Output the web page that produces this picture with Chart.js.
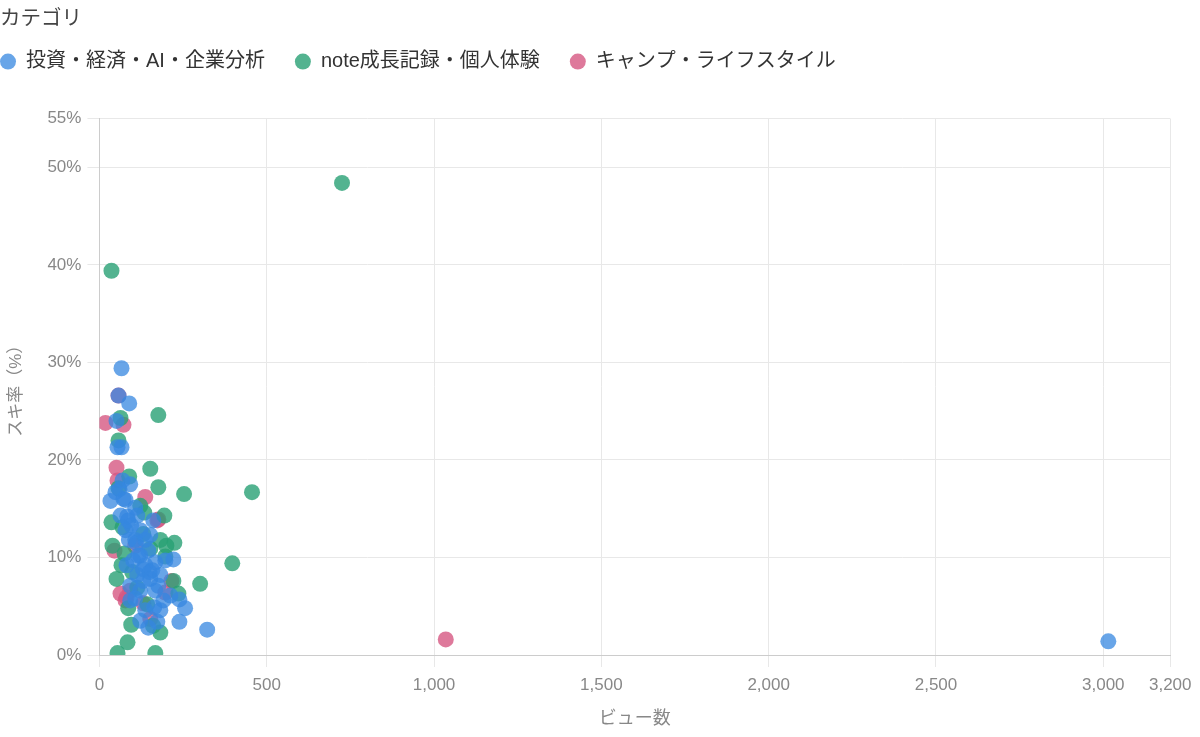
<!DOCTYPE html>
<html>
<head>
<meta charset="utf-8">
<script src="https://cdn.jsdelivr.net/npm/chart.js@4.4.1/dist/chart.umd.min.js"></script>
<style>
  html, body { margin: 0; padding: 0; background: #fff; }
  #wrap { width: 1200px; height: 737px; }
</style>
</head>
<body>
<div id="wrap"><canvas id="c"></canvas></div>
<script>
const seriesNames = ['投資・経済・AI・企業分析', 'note成長記録・個人体験', 'キャンプ・ライフスタイル'];

// [views, like rate %]
const investViews = [3015, 66, 89, 57, 51, 54, 66, 33, 48, 69, 92, 107, 83, 78, 95, 122, 146, 122, 101, 81, 137, 167, 197, 221, 113, 152, 176, 92, 122, 167, 92, 164, 137, 173, 146, 239, 256, 239, 322, 212, 191, 122, 113, 161, 72, 60, 110, 130, 88, 150, 78, 63, 86, 107, 137, 152, 116, 158, 182, 131, 107, 182];
const investRates = [1.4, 29.4, 25.8, 26.6, 24.0, 21.3, 21.3, 15.8, 16.7, 17.9, 17.5, 15.1, 14.2, 12.8, 13.3, 12.8, 10.7, 10.2, 9.7, 9.2, 9.2, 9.5, 9.7, 9.8, 8.2, 7.8, 7.1, 7.1, 6.6, 6.6, 5.6, 4.9, 4.6, 3.4, 2.8, 5.7, 4.8, 3.4, 2.6, 6.1, 5.6, 3.5, 14.3, 13.8, 16.0, 17.0, 11.5, 8.8, 11.8, 8.5, 15.9, 14.3, 13.8, 11.8, 11.8, 12.3, 10.2, 8.7, 8.2, 7.6, 5.8, 4.6];

const noteViews = [725, 36, 176, 456, 253, 176, 397, 301, 194, 224, 197, 152, 36, 54, 167, 84, 95, 86, 63, 57, 89, 134, 182, 51, 66, 75, 131, 221, 236, 143, 57, 69, 152, 98, 200, 122, 113, 160, 39, 182];
const noteRates = [48.4, 39.4, 24.6, 16.7, 16.5, 17.2, 9.4, 7.3, 14.3, 11.5, 10.1, 19.1, 13.6, 0.2, 0.2, 1.3, 3.1, 4.8, 24.3, 22.0, 18.3, 14.6, 2.3, 7.8, 9.2, 10.4, 12.4, 7.6, 6.3, 5.2, 17.1, 13.1, 10.9, 8.5, 11.2, 15.3, 6.9, 3.0, 11.2, 11.8];

const campViews = [18, 72, 51, 54, 45, 63, 81, 137, 173, 215, 1035, 131, 57, 92, 152, 107, 78, 176, 197];
const campRates = [23.8, 23.6, 19.2, 17.9, 10.7, 6.3, 5.9, 16.2, 13.8, 7.6, 1.6, 5.3, 26.6, 6.6, 3.7, 11.2, 5.6, 13.9, 6.4];

const xTickValues = [0, 500, 1000, 1500, 2000, 2500, 3000, 3200];
const yTickValues = [0, 10, 20, 30, 40, 50, 55];

const xTitle = 'ビュー数';
const yTitle = 'スキ率（%）';
const legendTitle = 'カテゴリ';

function pts(xs, ys) { return xs.map((x, i) => ({ x: x, y: ys[i] })); }

const FONT = "'Liberation Sans', 'Noto Sans CJK JP', sans-serif";

// Legend layout tweaks: flush-left items and extra gap under the legend row
const legendLayout = {
  id: 'legendLayout',
  beforeLayout(chart) {
    const lg = chart.legend;
    if (lg && !lg._gapPatched) {
      const origFit = lg.fit.bind(lg);
      lg.fit = function () { origFit(); this.height += 27; };
      lg._gapPatched = true;
    }
  },
  afterLayout(chart) {
    const lg = chart.legend;
    if (lg) { lg.left -= lg.options.labels.padding; lg.top -= 10; }
  }
};

new Chart(document.getElementById('c'), {
  type: 'scatter',
  data: {
    datasets: [
      { label: seriesNames[0], data: pts(investViews, investRates), backgroundColor: 'rgba(54,135,224,0.75)', borderColor: 'rgba(54,135,224,0.75)', borderWidth: 0, pointRadius: 8 },
      { label: seriesNames[1], data: pts(noteViews, noteRates), backgroundColor: 'rgba(40,160,116,0.8)', borderColor: 'rgba(40,160,116,0.8)', borderWidth: 0, pointRadius: 8 },
      { label: seriesNames[2], data: pts(campViews, campRates), backgroundColor: 'rgba(214,88,130,0.8)', borderColor: 'rgba(214,88,130,0.8)', borderWidth: 0, pointRadius: 8 }
    ]
  },
  plugins: [legendLayout],
  options: {
    responsive: true,
    maintainAspectRatio: false,
    animation: false,
    layout: { padding: { left: 0, right: 4, top: 0, bottom: 0 } },
    plugins: {
      tooltip: { enabled: false },
      title: {
        display: true,
        text: legendTitle,
        align: 'start',
        color: '#444',
        font: { family: FONT, size: 20.5, weight: 'normal' },
        padding: { top: 7, bottom: 0 }
      },
      legend: {
        position: 'top',
        align: 'start',
        labels: {
          usePointStyle: true,
          pointStyle: 'circle',
          boxWidth: 16,
          boxHeight: 11.3,
          padding: 30,
          color: '#333',
          font: { family: FONT, size: 20 }
        }
      }
    },
    scales: {
      x: {
        type: 'linear',
        min: 0,
        max: 3200,
        afterBuildTicks: s => { s.ticks = xTickValues.map(v => ({ value: v })); },
        ticks: { color: '#888', font: { family: FONT, size: 17 }, padding: 8.5 },
        grid: { color: '#e8e8e8', tickLength: 12 },
        border: { color: '#cccccc' },
        title: { display: true, text: xTitle, color: '#888', font: { family: FONT, size: 18 }, padding: { top: 4, bottom: 7 } }
      },
      y: {
        min: 0,
        max: 55,
        afterBuildTicks: s => { s.ticks = yTickValues.map(v => ({ value: v })); },
        ticks: { color: '#888', font: { family: FONT, size: 17 }, padding: 6, callback: v => v + '%' },
        grid: { color: '#e8e8e8', tickLength: 12 },
        border: { color: '#cccccc' },
        title: { display: true, text: yTitle, color: '#888', font: { family: FONT, size: 17 }, padding: { top: 6, bottom: 15 } }
      }
    }
  }
});
</script>
</body>
</html>
